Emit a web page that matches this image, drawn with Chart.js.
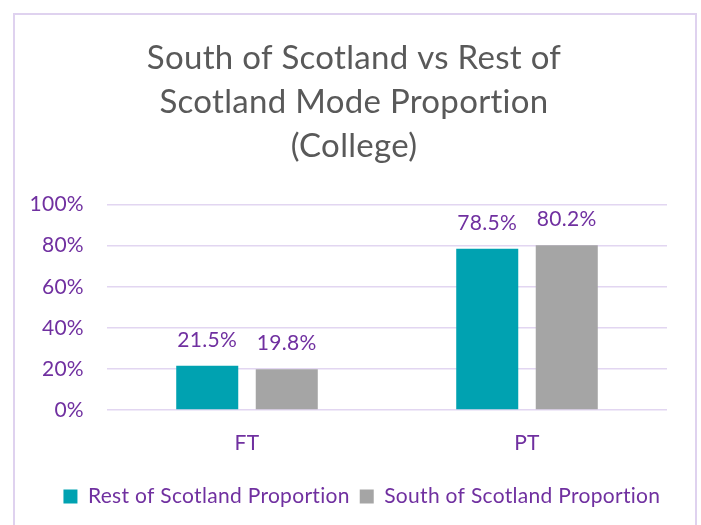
<!DOCTYPE html>
<html>
<head>
<meta charset="utf-8">
<title>Mode Proportion (College)</title>
<script src="https://cdn.jsdelivr.net/npm/chart.js@4/dist/chart.umd.min.js"></script>
<style>
  html, body { margin: 0; padding: 0; background: #fff; }
  #wrap { position: relative; width: 701px; height: 525px; overflow: hidden; }
  #frame {
    position: absolute; left: 13px; top: 13px; width: 680px; height: 530px;
    border: 2px solid #DFD2EF; border-bottom: none;
  }
  canvas { position: absolute; left: 0; top: 0; }
</style>
</head>
<body>
<div id="wrap">
  <div id="frame"></div>
  <canvas id="modeChart" width="701" height="525"></canvas>
</div>
<script>
const categories = ["FT", "PT"];
const restOfScotland = [21.5, 78.5];
const southOfScotland = [19.8, 80.2];
const yTicks = [0, 20, 40, 60, 80, 100];

const PURPLE = "#7030A0";
const FONT = "Lato, 'Open Sans', sans-serif";

// a touch of letter spacing keeps Lato from joining "ti" into a ligature
const noLigatures = {
  id: "noLigatures",
  beforeDraw(chart) { chart.ctx.letterSpacing = "0.3px"; }
};

// value labels sitting above each bar
const barValueLabels = {
  id: "barValueLabels",
  afterDatasetsDraw(chart) {
    const ctx = chart.ctx;
    ctx.save();
    ctx.fillStyle = PURPLE;
    ctx.font = "21px " + FONT;
    ctx.textAlign = "center";
    ctx.textBaseline = "alphabetic";
    chart.data.datasets.forEach((ds, i) => {
      chart.getDatasetMeta(i).data.forEach((bar, j) => {
        ctx.fillText(ds.data[j].toFixed(1) + "%", bar.x, bar.y - 19);
      });
    });
    ctx.restore();
  }
};

new Chart(document.getElementById("modeChart"), {
  type: "bar",
  data: {
    labels: categories,
    datasets: [
      {
        label: "Rest of Scotland Proportion",
        data: restOfScotland,
        backgroundColor: "#00A2B1",
        categoryPercentage: 0.568,
        barPercentage: 0.78
      },
      {
        label: "South of Scotland Proportion",
        data: southOfScotland,
        backgroundColor: "#A5A5A5",
        categoryPercentage: 0.568,
        barPercentage: 0.78
      }
    ]
  },
  options: {
    responsive: false,
    animation: false,
    layout: { padding: { left: 7, right: 0, top: 0, bottom: 8 } },
    plugins: {
      title: {
        display: true,
        text: ["South of Scotland vs Rest of", "Scotland Mode Proportion", "(College)"],
        color: "#595959",
        font: { family: FONT, size: 33, weight: "normal", lineHeight: 1.34 },
        padding: { top: 36, bottom: 36 }
      },
      legend: {
        position: "bottom",
        labels: {
          color: PURPLE,
          font: { family: FONT, size: 21 },
          boxWidth: 14,
          boxHeight: 14,
          padding: 10
        }
      },
      tooltip: { enabled: false }
    },
    scales: {
      x: {
        grid: { display: false },
        border: { display: false },
        ticks: { color: PURPLE, font: { family: FONT, size: 21 }, padding: 13 },
        afterFit: s => { s.height = 66; }
      },
      y: {
        min: 0,
        max: 100,
        afterBuildTicks: s => { s.ticks = yTicks.map(v => ({ value: v })); },
        grid: { color: "#E2D6F1", lineWidth: 1.5, drawTicks: false },
        border: { display: false },
        ticks: {
          color: PURPLE,
          font: { family: FONT, size: 21 },
          padding: 23,
          callback: v => v + "%"
        },
        afterFit: s => { s.width = 100; }
      },
      // empty right-hand axis, only there to hold the right margin
      yRight: {
        position: "right",
        min: 0,
        max: 100,
        grid: { display: false },
        border: { display: false },
        ticks: { display: false },
        afterFit: s => { s.width = 34; }
      }
    }
  },
  plugins: [noLigatures, barValueLabels]
});
</script>
</body>
</html>
